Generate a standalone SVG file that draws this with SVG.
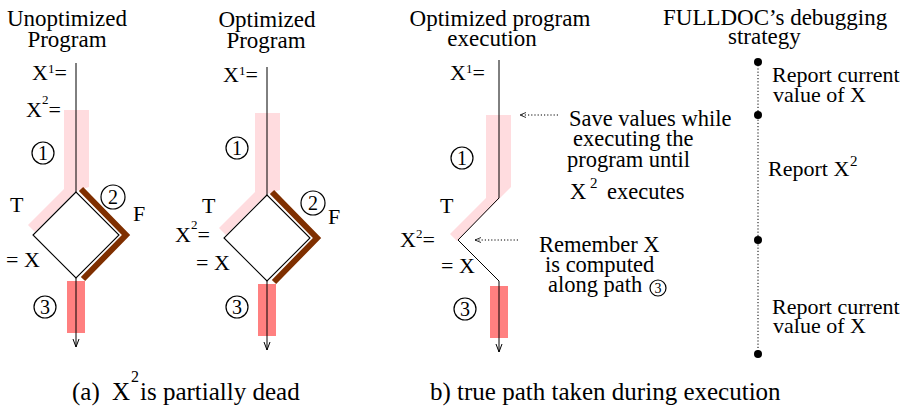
<svg xmlns="http://www.w3.org/2000/svg" width="914" height="406" viewBox="0 0 914 406">
<defs>
<style>
text{font-family:"Liberation Serif","Times New Roman",serif;fill:#000}
.ttl{font-size:23px}
.ann{font-size:22.5px}
.rep{font-size:22px}
.lab{font-size:22px}
.sup{font-size:13px}
.cap{font-size:25px}
.dig{font-size:20px;text-anchor:middle}
.circ{fill:none;stroke:#000;stroke-width:1.2}
.pink{fill:#ffdcdf}
.red{fill:#ff8080}
.brown{fill:none;stroke:#7f2f00;stroke-width:6;stroke-linejoin:miter;stroke-linecap:butt}
.dia{fill:#fff;stroke:#000;stroke-width:1.1}
.ln{fill:none;stroke:#000;stroke-width:1}
.dot{fill:none;stroke:#000;stroke-width:1;stroke-dasharray:1.2,2}
</style>
<marker id="ah" markerUnits="userSpaceOnUse" markerWidth="10" markerHeight="10" refX="8" refY="3.5" orient="auto">
<path d="M0,0.5 L8,3.5 L0,6.5" fill="none" stroke="#000" stroke-width="1"/>
</marker>
<marker id="ad" markerUnits="userSpaceOnUse" markerWidth="8" markerHeight="8" refX="6" refY="3" orient="auto">
<path d="M0,0.5 L6,3 L0,5.5" fill="none" stroke="#000" stroke-width="0.8"/>
</marker>
</defs>
<rect width="914" height="406" fill="#fff"/>

<g id="unoptimized">
<polygon class="pink" points="64,110 89,110 89,187 76,191 35,232 28,225 64,189"/>
<rect class="red" x="67" y="281" width="18" height="52"/>
<polygon class="dia" points="76,192 33,235 76,278 119,235"/>
<polyline class="brown" points="81,189 126,235 83,279"/>
<line class="ln" x1="76" y1="63" x2="76" y2="192"/>
<line class="ln" x1="76" y1="278" x2="76" y2="347" marker-end="url(#ah)"/>
<circle class="circ" cx="43" cy="153" r="11"/>
<circle class="circ" cx="113" cy="197" r="12"/>
<circle class="circ" cx="45" cy="307" r="11"/>
<text class="ttl" x="67" y="26" text-anchor="middle">Unoptimized</text>
<text class="ttl" x="67" y="47" text-anchor="middle">Program</text>
<text class="lab" x="32" y="80">X<tspan class="sup" x="48" y="73">1</tspan><tspan x="54.5" y="80">=</tspan></text>
<text class="lab" x="26" y="117">X<tspan class="sup" x="42" y="104">2</tspan><tspan x="48.5" y="117">=</tspan></text>
<text class="dig" x="43" y="160">1</text>
<text class="dig" x="113" y="204">2</text>
<text class="dig" x="45" y="314">3</text>
<text class="lab" x="10" y="212">T</text>
<text class="lab" x="133" y="221">F</text>
<text class="lab" x="6" y="267">= X</text>
</g>

<g id="optimized">
<polygon class="pink" points="255,113 280,113 280,190 267,194 226,235 219,228 255,192"/>
<rect class="red" x="258" y="284" width="18" height="52"/>
<polygon class="dia" points="267,195 224,238 267,281 310,238"/>
<polyline class="brown" points="272,192 317,238 274,282"/>
<line class="ln" x1="267" y1="67" x2="267" y2="195"/>
<line class="ln" x1="267" y1="281" x2="267" y2="350" marker-end="url(#ah)"/>
<circle class="circ" cx="237" cy="148" r="11"/>
<circle class="circ" cx="313" cy="203" r="12"/>
<circle class="circ" cx="237" cy="307" r="11"/>
<text class="ttl" x="267" y="27" text-anchor="middle">Optimized</text>
<text class="ttl" x="266" y="48" text-anchor="middle">Program</text>
<text class="lab" x="223" y="82">X<tspan class="sup" x="239" y="75">1</tspan><tspan x="245.5" y="82">=</tspan></text>
<text class="lab" x="175" y="242">X<tspan class="sup" x="191" y="229">2</tspan><tspan x="197.5" y="242">=</tspan></text>
<text class="dig" x="237" y="155">1</text>
<text class="dig" x="313" y="210">2</text>
<text class="dig" x="237" y="314">3</text>
<text class="lab" x="202" y="213">T</text>
<text class="lab" x="328" y="224">F</text>
<text class="lab" x="196" y="270">= X</text>
</g>

<g id="execution">
<polygon class="pink" points="486,115 511,115 511,187 457,241 450,234 486,198"/>
<rect class="red" x="490" y="286" width="18" height="52"/>
<path class="ln" d="M499,60 L499,198 L458,240 L499,281 L499,352" marker-end="url(#ah)"/>
<circle class="circ" cx="462" cy="158" r="11"/>
<circle class="circ" cx="465" cy="309" r="11"/>
<text class="ttl" x="500" y="26" text-anchor="middle">Optimized program</text>
<text class="ttl" x="492" y="46" text-anchor="middle">execution</text>
<text class="lab" x="450" y="80">X<tspan class="sup" x="466" y="73">1</tspan><tspan x="472.5" y="80">=</tspan></text>
<text class="lab" x="400" y="247">X<tspan class="sup" x="416" y="238">2</tspan><tspan x="422.5" y="247">=</tspan></text>
<text class="dig" x="462" y="165">1</text>
<text class="dig" x="465" y="316">3</text>
<text class="lab" x="440" y="213">T</text>
<text class="lab" x="441" y="273">= X</text>
</g>

<g id="notes">
<text class="ann" x="569" y="126">Save values while</text>
<text class="ann" x="573" y="146">executing the</text>
<text class="ann" x="567" y="167">program until</text>
<text class="ann" x="570" y="199">X<tspan font-size="15" x="590" y="188">2</tspan><tspan x="607" y="199">executes</tspan></text>
<text class="ann" x="539" y="252">Remember X</text>
<text class="ann" x="545" y="272">is computed</text>
<text class="ann" x="548" y="292">along path</text>
<circle class="circ" cx="658" cy="288" r="8" stroke-width="1"/>
<text font-size="14" x="658" y="293" text-anchor="middle">3</text>
</g>

<g id="strategy">
<text class="ttl" x="663" y="25">FULLDOC’s debugging</text>
<text class="ttl" x="728" y="44">strategy</text>
<text class="rep" x="772" y="82">Report current</text>
<text class="rep" x="773" y="102">value of X</text>
<text class="rep" x="768" y="176">Report X<tspan font-size="15" x="850" y="166">2</tspan></text>
<text class="rep" x="772" y="314">Report current</text>
<text class="rep" x="773" y="333">value of X</text>
<circle cx="758" cy="62" r="4"/>
<circle cx="758" cy="115" r="4"/>
<circle cx="758" cy="240" r="4"/>
<circle cx="758" cy="354" r="4"/>
</g>

<g id="connectors">
<line class="dot" x1="758" y1="62" x2="758" y2="354"/>
<line class="dot" x1="558" y1="115" x2="520" y2="115" marker-end="url(#ad)"/>
<line class="dot" x1="518" y1="240" x2="475" y2="240" marker-end="url(#ad)"/>
</g>

<g id="captions">
<text class="cap" x="72" y="400">(a)</text>
<text class="cap" x="112" y="400">X<tspan font-size="16" x="131" y="382">2</tspan><tspan x="140" y="400">is partially dead</tspan></text>
<text class="cap" x="430" y="400">b) true path taken during execution</text>
</g>
</svg>
